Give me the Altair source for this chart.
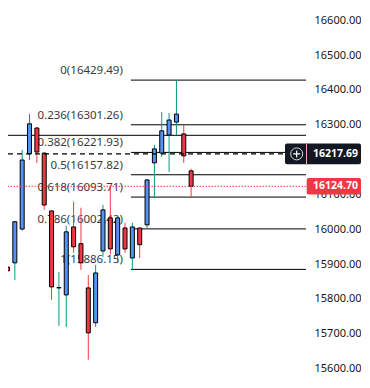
import altair as alt
import pandas as pd

# ---------------- data ----------------
opens  = [15893, 15905, 16002, 16218, 16292, 16220, 16054, 15833, 15813, 16008,
          15960, 15833, 15733, 15939, 16034, 15928, 16005, 15919, 16005, 16014,
          16192, 16220, 16272, 16309, 16275, 16169]
highs  = [15913, 16025, 16229, 16332, 16295, 16222, 16056, 15879, 16011, 16080,
          16063, 15870, 15899, 16071, 16123, 16040, 16020, 16020, 16006, 16145,
          16244, 16338, 16335, 16429.49, 16301, 16175]
lows   = [15862, 15856, 15997, 16200, 16192, 16057, 15799, 15724, 15721, 15934,
          15885, 15627, 15721, 15922, 15928, 15905, 15934, 15886.15, 15919, 16005,
          16091, 16209, 16166, 16272, 16192, 16094]
closes = [15882, 16023, 16200, 16304, 16223, 16071, 15836, 15834, 15994, 15951,
          15905, 15704, 15876, 16057, 15945, 16034, 15945, 16008, 15957, 16143,
          16232, 16284, 16315, 16332, 16212, 16124.70]

fib_levels = ["0", "0.236", "0.382", "0.5", "0.618", "0.786", "1"]
fib_prices = [16429.49, 16301.26, 16221.93, 16157.82, 16093.71, 16002.42, 15886.15]
fib_anchor = 16.8          # candle position where the retracement starts

hline_price = 16271.0      # long horizontal line
cross_price = 16217.69     # crosshair price
last_price = 16124.70      # last traded price

# price-scale labels (16200.00 is hidden behind the crosshair tag)
tick_values = [16600, 16500, 16400, 16300, 16100, 16000,
               15900, 15800, 15700, 15600]

# ---------------- styling ----------------
W, H = 298, 366
RIGHT = 55
X_DOMAIN = [0.75, 39.96]
Y_DOMAIN = [15585.94, 16636.45]
PX = (Y_DOMAIN[1] - Y_DOMAIN[0]) / H      # price units per pixel

BLUE = "#5592f5"
RED = "#f23645"
TEAL = "#089981"
FONT = "Noto Sans"

xs = alt.Scale(domain=X_DOMAIN, nice=False, zero=False)
ys = alt.Scale(domain=Y_DOMAIN, nice=False, zero=False)

candles = pd.DataFrame({
    "i": list(range(len(opens))),
    "open": opens, "high": highs, "low": lows, "close": closes,
})
candles["lo"] = candles[["open", "close"]].min(axis=1)
candles["hi"] = candles[["open", "close"]].max(axis=1)

fib = pd.DataFrame({"level": fib_levels, "price": fib_prices})
fib["label"] = [f"{l}({p:.2f})" for l, p in zip(fib_levels, fib_prices)]
fib["x0"] = fib_anchor
fib["x1"] = X_DOMAIN[1] + 1

up = "datum.close >= datum.open"

wicks = alt.Chart(candles).mark_rule(strokeWidth=1, clip=True).encode(
    x=alt.X("i:Q", scale=xs, axis=None),
    y=alt.Y("low:Q", scale=ys, axis=None),
    y2="high:Q",
    color=alt.condition(up, alt.value(TEAL), alt.value(RED)),
)
bodies = alt.Chart(candles).mark_bar(width=4, stroke="black", strokeWidth=1, clip=True).encode(
    x=alt.X("i:Q", scale=xs, axis=None),
    y=alt.Y("lo:Q", scale=ys, axis=None),
    y2="hi:Q",
    fill=alt.condition(up, alt.value(BLUE), alt.value(RED)),
)

fib_text = alt.Chart(fib).mark_text(
    align="right", baseline="alphabetic", dx=-8, dy=-6,
    fontSize=11.5, font=FONT, color="#3a3a3a", clip=False,
).encode(
    x=alt.X("x0:Q", scale=xs, axis=None),
    y=alt.Y("price:Q", scale=ys, axis=None),
    text="label:N",
)
fib_lines = alt.Chart(fib).mark_rule(color="black", strokeWidth=1, clip=True).encode(
    x=alt.X("x0:Q", scale=xs, axis=None),
    x2="x1:Q",
    y=alt.Y("price:Q", scale=ys, axis=None),
)

hline = alt.Chart(pd.DataFrame({"price": [hline_price]})).mark_rule(
    color="black", strokeWidth=1).encode(y=alt.Y("price:Q", scale=ys, axis=None))

cross = alt.Chart(pd.DataFrame({"price": [cross_price]})).mark_rule(
    color="black", strokeWidth=1.3, strokeDash=[5, 4]).encode(
    x=alt.value(0), x2=alt.value(277),
    y=alt.Y("price:Q", scale=ys, axis=None))

lastline = alt.Chart(pd.DataFrame({"price": [last_price]})).mark_rule(
    color=RED, strokeWidth=1, strokeDash=[1.5, 1.5]).encode(
    y=alt.Y("price:Q", scale=ys, axis=None))

# price-axis labels
ticks = pd.DataFrame({"v": tick_values})
ticks["label"] = [f"{v:.2f}" for v in tick_values]
axis_text = alt.Chart(ticks).mark_text(
    align="left", baseline="middle", fontSize=11, font=FONT, color="#131722", clip=False,
).encode(x=alt.value(306.5), y=alt.Y("v:Q", scale=ys, axis=None), text="label:N")

# crosshair price tag
cdf = pd.DataFrame({"price": [cross_price]})
cdf["top"] = cdf["price"] + 10.3 * PX
cdf["bot"] = cdf["price"] - 10.3 * PX
cdf["label"] = [f"{cross_price:.2f}"]
cross_box = alt.Chart(cdf).mark_rect(color="#131722", cornerRadius=2, clip=False).encode(
    x=alt.value(277), x2=alt.value(W + RIGHT),
    y=alt.Y("top:Q", scale=ys, axis=None), y2="bot:Q")
cross_sep = alt.Chart(cdf).mark_rule(color="#f7a5ab", strokeWidth=1).encode(
    x=alt.value(298.5), y=alt.Y("top:Q", scale=ys, axis=None), y2="bot:Q")
cross_circle = alt.Chart(cdf).mark_point(
    shape="circle", size=144, filled=False, stroke="#d1d4dc", strokeWidth=1, opacity=1,
).encode(x=alt.value(288.7), y=alt.Y("price:Q", scale=ys, axis=None))
cross_plus = alt.Chart(cdf).mark_point(
    shape="M-1,0L1,0M0,-1L0,1", size=49, filled=False, stroke="white", strokeWidth=1.2, opacity=1,
).encode(x=alt.value(288.7), y=alt.Y("price:Q", scale=ys, axis=None))
cross_text = alt.Chart(cdf).mark_text(
    align="left", baseline="middle", fontSize=10.5, font=FONT, fontWeight="bold", color="white",
).encode(x=alt.value(305), y=alt.Y("price:Q", scale=ys, axis=None), text="label:N")

# last-price tag
ldf = pd.DataFrame({"price": [last_price]})
ldf["top"] = ldf["price"] + 8.3 * PX
ldf["bot"] = ldf["price"] - 8.3 * PX
ldf["label"] = [f"{last_price:.2f}"]
last_box = alt.Chart(ldf).mark_rect(color=RED, cornerRadius=2, clip=False).encode(
    x=alt.value(298.7), x2=alt.value(W + RIGHT),
    y=alt.Y("top:Q", scale=ys, axis=None), y2="bot:Q")
last_text = alt.Chart(ldf).mark_text(
    align="left", baseline="middle", fontSize=10.5, font=FONT, fontWeight="bold", color="white",
).encode(x=alt.value(305), y=alt.Y("price:Q", scale=ys, axis=None), text="label:N")

chart = alt.layer(
    axis_text, fib_text, fib_lines, hline, wicks, bodies, cross, lastline,
    cross_box, cross_sep, cross_circle, cross_plus, cross_text, last_box, last_text,
).properties(
    width=W, height=H,
    autosize=alt.AutoSizeParams(type="none"),
    padding={"left": 0, "top": 0, "right": RIGHT, "bottom": 0},
    background="white",
).configure_view(stroke=None)

chart.save("out.html", embed_options={"renderer": "svg", "actions": False})
